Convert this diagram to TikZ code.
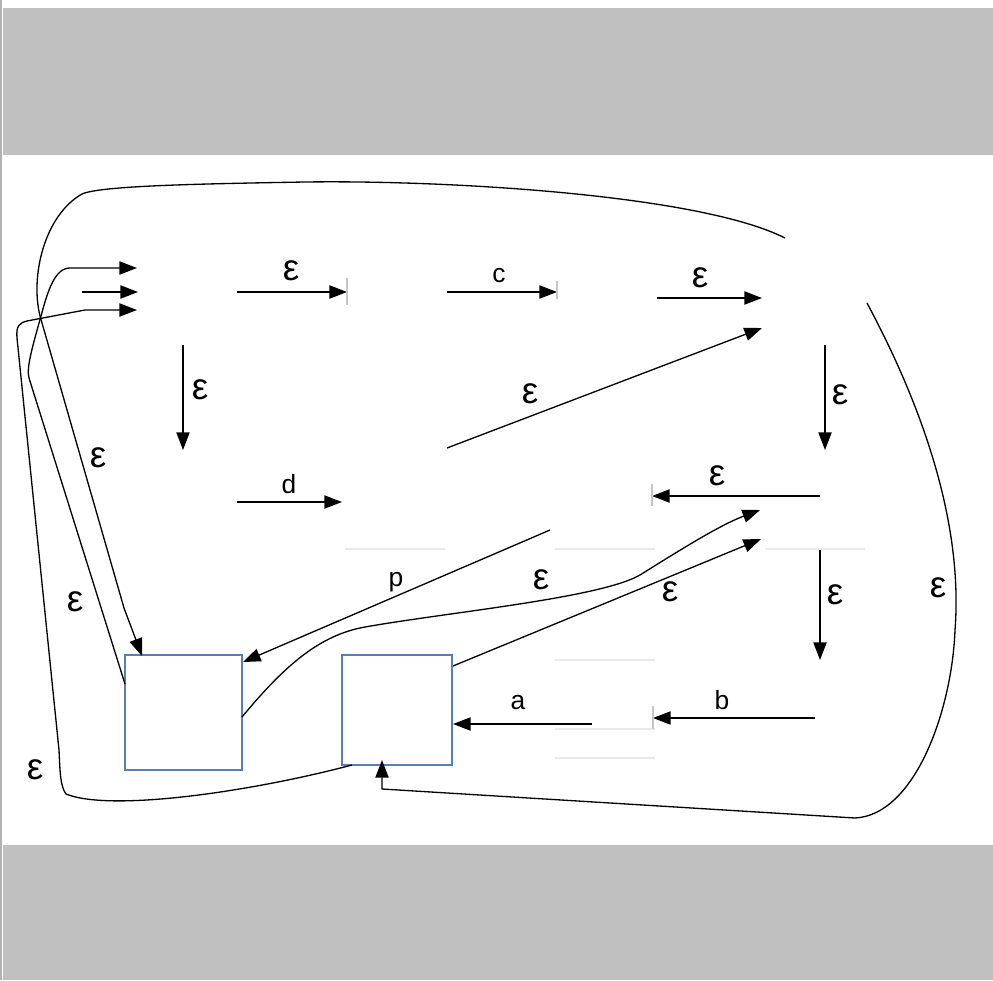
\documentclass[tikz,border=0pt]{standalone}
\usepackage{fontspec}
\setmainfont{Liberation Sans}
\usetikzlibrary{arrows.meta,positioning}
\definecolor{BandGray}{HTML}{C0C0C0}
\definecolor{BoxBlue}{HTML}{5B7FB5}
\definecolor{GuideGray}{HTML}{EAEAEA}

\begin{document}
\begin{tikzpicture}[
    x=0.02cm, y=-0.02cm,
    trans/.style={draw=black, line width=0.75pt, -{Triangle[length=10pt,width=7.5pt]}},
    sbox/.style={draw=BoxBlue, line width=0.6pt, fill=white, inner sep=0pt},
    eps/.style={font=\fontsize{21}{24}\selectfont},
    sym/.style={font=\fontsize{15}{18}\selectfont},
    tipmark/.style={draw=gray!45, line width=0.8pt},
    guide/.style={draw=GuideGray, line width=0.6pt}
]

  % -------------------------------------------------------------
  % PAGE: white sheet between two gray bands
  % -------------------------------------------------------------
  \useasboundingbox (0,0) rectangle (993,980);
  \fill[white] (0,0) rectangle (993,980);
  \fill[BandGray] (3,8) rectangle (993,155);
  \fill[BandGray] (3,845) rectangle (993,980);
  \draw[gray!60, line width=0.8pt] (1,0) -- (1,980);

  % faint guide lines left by the hidden states
  \draw[guide] (345,549) -- (445,549);
  \draw[guide] (555,549) -- (655,549);
  \draw[guide] (765,549) -- (865,549);
  \draw[guide] (555,660) -- (655,660);
  \draw[guide] (555,729) -- (655,729);
  \draw[guide] (555,758) -- (655,758);

  % -------------------------------------------------------------
  % BOXES
  % -------------------------------------------------------------
  \node[sbox, minimum width=2.34cm, minimum height=2.3cm] (boxA) at (183.5,712.5) {};
  \node[sbox, minimum width=2.2cm, minimum height=2.2cm] (boxB) at (397,710) {};

  % -------------------------------------------------------------
  % END POINTS OF THE TRANSITIONS (hidden states)
  % -------------------------------------------------------------
  \coordinate (in_top) at (137,268);
  \coordinate (in_mid_src) at (82,292);
  \coordinate (in_mid) at (138,292);
  \coordinate (in_bot) at (137,310);

  \coordinate (q0_out) at (237,292);   \coordinate (q1_in) at (347,292);
  \coordinate (q2_out) at (447,292);   \coordinate (q3_in) at (557,292);
  \coordinate (q4_out) at (657,298);   \coordinate (q5_in) at (762,298);
  \coordinate (q6_out) at (447,448);   \coordinate (q5_in2) at (762,328);

  \coordinate (q0_down) at (183,345);  \coordinate (q7_in) at (183,450);
  \coordinate (q7_out) at (237,502);   \coordinate (q8_in) at (342,502);

  \coordinate (q5_down) at (825,345);  \coordinate (q9_in) at (825,450);
  \coordinate (q9_out) at (820,496);   \coordinate (q10_in) at (652,496);
  \coordinate (q11_down) at (820,550); \coordinate (q12_in) at (820,660);
  \coordinate (q12_out) at (815,718);  \coordinate (q13_in) at (653,718);
  \coordinate (q14_out) at (592,724);  \coordinate (boxB_e) at (453,724);

  \coordinate (q10_out) at (550,530);  \coordinate (boxA_ne) at (243,662);
  \coordinate (boxA_e) at (242,717);   \coordinate (q15_in) at (760,510);
  \coordinate (boxB_ne) at (453,666);  \coordinate (q16_in) at (761,539);

  \coordinate (q5_top) at (785,238);   \coordinate (boxA_n) at (142,656);
  \coordinate (boxA_w) at (125,684);
  \coordinate (boxB_sw) at (352,765);
  \coordinate (q5_right) at (867,303); \coordinate (boxB_s) at (382,760);

  % -------------------------------------------------------------
  % START ARROWS
  % -------------------------------------------------------------
  \draw[trans] (in_mid_src) -- (in_mid);

  % -------------------------------------------------------------
  % STRAIGHT TRANSITIONS
  % -------------------------------------------------------------
  \draw[trans] (q0_out) -- (q1_in);
  \draw[trans] (q2_out) -- (q3_in);
  \draw[trans] (q4_out) -- (q5_in);
  \draw[trans] (q6_out) -- (q5_in2);
  \draw[trans] (q0_down) -- (q7_in);
  \draw[trans] (q7_out) -- (q8_in);
  \draw[trans] (q5_down) -- (q9_in);
  \draw[trans] (q9_out) -- (q10_in);
  \draw[trans] (q11_down) -- (q12_in);
  \draw[trans] (q12_out) -- (q13_in);
  \draw[trans] (q14_out) -- (boxB_e);
  \draw[trans] (q10_out) -- (boxA_ne);
  \draw[trans] (boxB_ne) -- (q16_in);

  % tick marks at some arrow tips
  \draw[tipmark] (347,278) -- (347,305);
  \draw[tipmark] (557,281) -- (557,299);
  \draw[tipmark] (652,484) -- (652,506);
  \draw[tipmark] (653,706) -- (653,729);

  % -------------------------------------------------------------
  % CURVED TRANSITIONS
  % -------------------------------------------------------------
  \draw[trans] (boxA_e) .. controls (285,665) and (320,635) .. (365,627)
    .. controls (450,612) and (600,598) .. (640,575)
    .. controls (680,550) and (720,525) .. (q15_in);

  % big loop over the top, back into box A
  \draw[trans] (q5_top) .. controls (700,195) and (450,180) .. (305,182)
    .. controls (190,184) and (100,186) .. (82,194)
    .. controls (45,215) and (30,275) .. (40,316) -- (124,608) -- (boxA_n);

  % box A back to the start state
  \draw[trans] (boxA_w) -- (29,378) .. controls (26,368) and (33,345) .. (41,316)
    .. controls (48,290) and (55,268) .. (70,268) -- (in_top);

  % box B back to the start state
  \draw[trans] (boxB_sw) .. controls (250,792) and (110,812) .. (66,794)
    .. controls (60,786) and (60,770) .. (59,750) -- (17,338)
    .. controls (16,326) and (19,323) .. (27,321) -- (85,310) -- (in_bot);

  % big loop on the right, into box B from below
  \draw[trans] (q5_right) .. controls (935,430) and (962,540) .. (955,630)
    .. controls (952,710) and (915,815) .. (855,818) -- (382,789) -- (boxB_s);

  % -------------------------------------------------------------
  % LABELS
  % -------------------------------------------------------------
  \node[eps] (l_e1) at (291,271) {ε};
  \node[sym] (l_c) at (499,276) {c};
  \node[eps] (l_e2) at (700,278) {ε};
  \node[eps] (l_e3) at (530,394) {ε};
  \node[eps] (l_e4) at (200,390) {ε};
  \node[sym] (l_d) at (289,484) {d};
  \node[eps] (l_e5) at (840,395) {ε};
  \node[eps] (l_e6) at (717,476) {ε};
  \node[eps] (l_e7) at (835,595) {ε};
  \node[sym] (l_b) at (722,700) {b};
  \node[sym] (l_a) at (518,703) {a};
  \node[sym] (l_p) at (396,582) {p};
  \node[eps] (l_e8) at (541,580) {ε};
  \node[eps] (l_e9) at (670,592) {ε};
  \node[eps] (l_e10) at (938,588) {ε};
  \node[eps] (l_e11) at (98,458) {ε};
  \node[eps] (l_e12) at (75,602) {ε};
  \node[eps] (l_e13) at (35,770) {ε};

\end{tikzpicture}
\end{document}
